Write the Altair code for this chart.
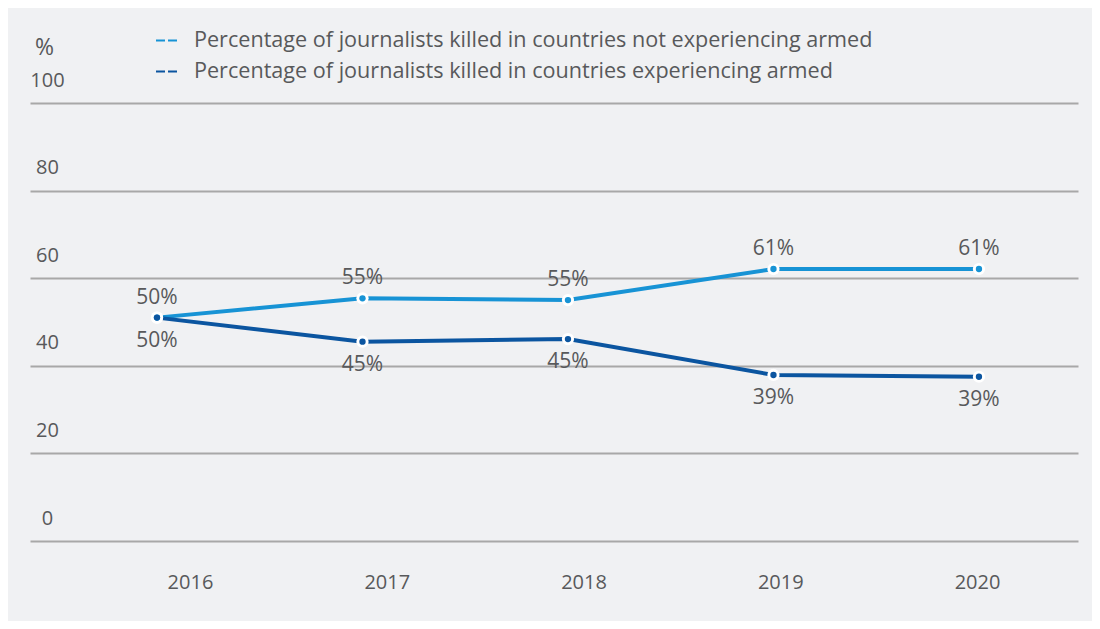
import altair as alt
import pandas as pd

years = [2016, 2017, 2018, 2019, 2020]
not_armed = [51.0, 55.4, 55.0, 62.1, 62.1]
armed = [51.0, 45.5, 46.1, 37.9, 37.5]
not_armed_labels = ["50%", "55%", "55%", "61%", "61%"]
armed_labels = ["50%", "45%", "45%", "39%", "39%"]
series_names = [
    "Percentage of journalists killed in countries not experiencing armed",
    "Percentage of journalists killed in countries experiencing armed",
]
colors = ["#1793d5", "#0b55a0"]
y_ticks = [0, 20, 40, 60, 80, 100]

rows = []
for i, yr in enumerate(years):
    rows.append(dict(year=yr, value=not_armed[i], label=not_armed_labels[i], series=series_names[0]))
    rows.append(dict(year=yr, value=armed[i], label=armed_labels[i], series=series_names[1]))
df = pd.DataFrame(rows)

FONT = "Open Sans"
TXT = "#58595b"
FS = 20

xp = alt.X("year:Q", scale=alt.Scale(domain=[2015.382, 2020.482], nice=False, zero=False), axis=None)
y_enc = alt.Y(
    "value:Q",
    scale=alt.Scale(domain=[0, 100], nice=False),
    axis=alt.Axis(
        values=y_ticks, title="%", titleAngle=0, titleX=14, titleY=-56,
        titleAlign="center", titleBaseline="middle", titleFont=FONT,
        titleFontSize=23, titleFontWeight="normal", titleColor=TXT,
        labelAlign="center", labelBaseline="middle", labelPadding=-17,
        labelOffset=-23, ticks=False, tickSize=0, domain=False, grid=True,
        gridColor="#a8a8a8", gridWidth=2, labelFont=FONT, labelFontSize=FS,
        labelColor=TXT,
    ),
)

base = alt.Chart(df)

axis_layer = base.mark_point(opacity=0).encode(
    x=alt.X(
        "year:Q",
        scale=alt.Scale(domain=[2015.1868, 2020.5133], nice=False, zero=False),
        axis=alt.Axis(
            values=years, format="d", labelFont=FONT, labelFontSize=FS,
            labelColor=TXT, labelPadding=41, labelBaseline="middle",
            labelFlush=False, labelOverlap=False, ticks=False, tickSize=0,
            domain=False, grid=False, title=None,
        ),
    ),
    y=y_enc,
)

color_enc = alt.Color(
    "series:N",
    scale=alt.Scale(domain=series_names, range=colors),
    legend=alt.Legend(
        orient="none", legendX=125, legendY=-75, title=None,
        symbolType="stroke", symbolSize=529, symbolStrokeWidth=2,
        symbolDash=[9, 3], labelFont=FONT, labelFontSize=21.6, labelColor=TXT,
        labelLimit=0, rowPadding=7, labelOffset=14, padding=0,
    ),
)

lines = base.mark_line(strokeWidth=4).encode(x=xp, y=y_enc, color=color_enc)

halo = base.mark_point(filled=True, color="white", size=150, opacity=1).encode(x=xp, y=y_enc)
dots = base.mark_point(filled=True, size=40, opacity=1).encode(
    x=xp, y=y_enc,
    color=alt.Color("series:N", scale=alt.Scale(domain=series_names, range=colors), legend=None),
)

top_text = base.transform_filter(alt.datum.series == series_names[0]).mark_text(
    dy=-20, font=FONT, fontSize=21, color=TXT
).encode(x=xp, y=y_enc, text="label:N")

bottom_text = base.transform_filter(alt.datum.series == series_names[1]).mark_text(
    dy=23, font=FONT, fontSize=21, color=TXT
).encode(x=xp, y=y_enc, text="label:N")

chart = (
    alt.layer(axis_layer, lines, halo, dots, top_text, bottom_text)
    .resolve_scale(x="independent")
    .properties(
        width=1048, height=438,
        autosize=alt.AutoSizeParams(type="none"),
        padding={"left": 22, "top": 95, "right": 14, "bottom": 80},
        background="#f0f1f3",
    )
    .configure_view(strokeWidth=0)
)

chart.save("out.html", embed_options={"renderer": "svg", "actions": False})
